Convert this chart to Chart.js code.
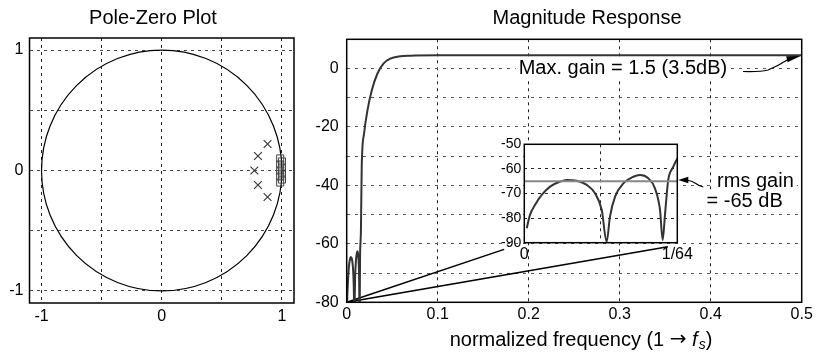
<!DOCTYPE html>
<html>
<head>
<meta charset="utf-8">
<script src="https://cdn.jsdelivr.net/npm/chart.js@4/dist/chart.umd.min.js"></script>
<style>
  html, body { margin: 0; padding: 0; background: #fff; }
  #wrap { position: relative; width: 819px; height: 352px; overflow: hidden; }
  canvas { position: absolute; }
  #pz { left: 0; top: 0; }
  #mag { left: 300px; top: 0; }
  #zoom { left: 470px; top: 130px; }
</style>
</head>
<body>
<div id="wrap">
  <canvas id="pz" width="310" height="352"></canvas>
  <canvas id="mag" width="519" height="352"></canvas>
  <canvas id="zoom" width="230" height="140"></canvas>
</div>
<script>
// pole-zero plot
const poles = [[0.88, 0.22], [0.80, 0.12], [0.77, 0], [0.80, -0.12], [0.88, -0.22]];
const zeros = [[0.985, 0.1], [1.0, 0.075], [0.985, 0.05], [1.0, 0.025], [0.985, 0],
               [1.0, -0.025], [0.985, -0.05], [1.0, -0.075], [0.985, -0.1]];
const unitRadius = 1;
const pzTicks = [-1, -0.5, 0, 0.5, 1];
const pzLabels = ['-1', '', '0', '', '1'];

// magnitude response (dB), stopband 0..1/64 then passband
const stopFreq = [0.00025, 0.00058, 0.00109, 0.00178, 0.00263, 0.00364, 0.00433, 0.00534, 0.00638,
                  0.00722, 0.00791, 0.00841, 0.00875, 0.00927, 0.01011, 0.01113, 0.01181, 0.01266,
                  0.01334, 0.01386, 0.01413, 0.01438, 0.01470, 0.01522, 0.015625];
const stopDb = [-84.1, -78.7, -74.7, -70.6, -67.2, -65.2, -64.5, -64.8, -66.5,
                -69.9, -76.7, -89.6, -79.4, -71.3, -65.9, -63.2, -62.5, -63.8,
                -67.9, -76.7, -88.9, -78.0, -64.5, -59.1, -55.7];
const passFreq = [0.0165, 0.0191, 0.0228, 0.0276, 0.0338, 0.0404, 0.0478, 0.0588, 0.07, 0.1, 0.5];
const passDb = [-33.6, -22.2, -14.3, -7.4, -1.7, 1.7, 3.4, 4.2, 4.4, 4.5, 4.5];
const rmsGain = -65;
const zoomEnds = [[0.173, -61.9], [0.353, -61.0]];

const freqTicks = [0, 0.1, 0.2, 0.3, 0.4, 0.5];
const freqLabels = ['0', '0.1', '0.2', '0.3', '0.4', '0.5'];
const dbTicks = [-80, -70, -60, -50, -40, -30, -20, -10, 0, 10];
const dbLabels = ['-80', '', '-60', '', '-40', '', '-20', '', '0', ''];
const insetFreqTicks = [0, 0.0078125, 0.015625];
const insetFreqLabels = ['0', '', '1/64'];
const insetDbTicks = [-90, -80, -70, -60, -50];
const insetDbLabels = ['-90', '-80', '-70', '-60', '-50'];

const fam = "'Liberation Sans', Arial, Helvetica, sans-serif";
Chart.defaults.font.family = fam;
Chart.defaults.color = '#000';

function setTicks(values) {
  return s => { s.ticks = values.map(v => ({ value: v })); };
}
function labelFrom(labels) {
  return (v, i) => labels[i];
}
function drawFrame(chart, w) {
  const a = chart.chartArea, ctx = chart.ctx;
  ctx.save();
  ctx.strokeStyle = '#000';
  ctx.lineWidth = w;
  ctx.strokeRect(a.left, a.top, a.right - a.left, a.bottom - a.top);
  ctx.restore();
}
function arrowHead(ctx, tx, ty, ang, len, hw) {
  const bx = tx - len * Math.cos(ang), by = ty - len * Math.sin(ang);
  ctx.beginPath();
  ctx.moveTo(tx, ty);
  ctx.lineTo(bx + hw * Math.sin(ang), by - hw * Math.cos(ang));
  ctx.lineTo(bx - hw * Math.sin(ang), by + hw * Math.cos(ang));
  ctx.closePath();
  ctx.fill();
}
function boxedText(ctx, txt, x, y) {
  const w = ctx.measureText(txt).width;
  ctx.fillStyle = '#fff';
  ctx.fillRect(x - 3, y - 11, w + 6, 22);
  ctx.fillStyle = '#000';
  ctx.fillText(txt, x, y);
}

// ---------- pole-zero ----------
const pzDecor = {
  id: 'pzDecor',
  beforeDatasetsDraw(chart) {
    const { ctx, scales: { x, y } } = chart;
    const cx = x.getPixelForValue(0), cy = y.getPixelForValue(0);
    ctx.save();
    ctx.strokeStyle = '#000';
    ctx.lineWidth = 1.2;
    ctx.beginPath();
    ctx.ellipse(cx, cy, x.getPixelForValue(unitRadius) - cx, cy - y.getPixelForValue(unitRadius), 0, 0, 2 * Math.PI);
    ctx.stroke();
    ctx.restore();
  },
  afterDatasetsDraw(chart) { drawFrame(chart, 1.5); },
  afterDraw(chart) {
    const ctx = chart.ctx;
    ctx.save();
    ctx.font = '20px ' + fam;
    ctx.fillStyle = '#000';
    ctx.textAlign = 'center';
    ctx.textBaseline = 'middle';
    ctx.fillText('Pole-Zero Plot', 153, 18);
    ctx.restore();
  }
};

new Chart(document.getElementById('pz'), {
  type: 'scatter',
  data: {
    datasets: [
      { data: poles.map(p => ({ x: p[0], y: p[1] })), pointStyle: 'crossRot', pointRadius: 5.5,
        borderColor: '#333', borderWidth: 1.1, backgroundColor: 'transparent' },
      { data: zeros.map(p => ({ x: p[0], y: p[1] })), pointStyle: 'rect', pointRadius: 5,
        borderColor: '#444', borderWidth: 1, backgroundColor: 'transparent' }
    ]
  },
  options: {
    responsive: false,
    animation: false,
    layout: { padding: { left: 0, right: 16, top: 38, bottom: 0 } },
    plugins: { legend: { display: false }, tooltip: { enabled: false } },
    scales: {
      x: {
        type: 'linear', min: -1.1, max: 1.1,
        afterBuildTicks: setTicks(pzTicks),
        afterFit: s => { s.height = 49; },
        ticks: { callback: labelFrom(pzLabels), padding: 4, font: { size: 16 }, maxRotation: 0, autoSkip: false },
        grid: { color: '#222', drawTicks: false },
        border: { display: false, dash: [3, 4] }
      },
      y: {
        type: 'linear', min: -1.1, max: 1.1,
        afterBuildTicks: setTicks(pzTicks),
        afterFit: s => { s.width = 29.5; },
        ticks: { callback: labelFrom(pzLabels), padding: 6, font: { size: 16 }, autoSkip: false },
        grid: { color: '#444', drawTicks: false },
        border: { display: false, dash: [3, 4] }
      }
    }
  },
  plugins: [pzDecor]
});

// ---------- magnitude response ----------
const response = stopFreq.map((f, i) => ({ x: f, y: stopDb[i] }))
  .concat(passFreq.map((f, i) => ({ x: f, y: passDb[i] })));

const magNotes = {
  id: 'magNotes',
  afterDatasetsDraw(chart) { drawFrame(chart, 1.5); },
  afterDraw(chart) {
    const { ctx, scales: { x, y } } = chart;
    ctx.save();
    ctx.fillStyle = '#000';
    ctx.textBaseline = 'middle';
    ctx.font = '20px ' + fam;
    ctx.textAlign = 'center';
    ctx.fillText('Magnitude Response', 287, 18);

    // axis title: normalized frequency (1 -> f_s), the arrow glyph from DejaVu (wider)
    ctx.textAlign = 'left';
    const parts = [
      ['normalized frequency (1 ', '20px ' + fam, 0],
      ['\u2192', '20px "DejaVu Sans"', 0],
      [' ', '20px ' + fam, 0],
      ['f', 'italic 20px ' + fam, 0],
      ['s', 'italic 14px ' + fam, 5],
      [')', '20px ' + fam, 0]
    ];
    let total = 0;
    parts.forEach(p => { ctx.font = p[1]; total += ctx.measureText(p[0]).width; });
    let cx = 281 - (total + 1) / 2;
    const ty = 340;
    parts.forEach(p => {
      ctx.font = p[1];
      ctx.fillText(p[0], cx, ty + p[2]);
      cx += ctx.measureText(p[0]).width + (p[0] === 'f' ? 1 : 0);
    });

    // notes
    ctx.font = '20px ' + fam;
    boxedText(ctx, 'Max. gain = 1.5 (3.5dB)', x.getPixelForValue(0.189), y.getPixelForValue(0));
    boxedText(ctx, 'rms gain', x.getPixelForValue(0.407), y.getPixelForValue(-38.8));
    boxedText(ctx, '= -65 dB', x.getPixelForValue(0.3955), y.getPixelForValue(-45.6));

    // arrows
    ctx.strokeStyle = '#000';
    ctx.fillStyle = '#000';
    ctx.lineWidth = 1.2;
    ctx.beginPath();
    ctx.moveTo(443, 71.5);
    ctx.quadraticCurveTo(460, 72, 468, 70);
    ctx.quadraticCurveTo(478, 66, 488, 59.5);
    ctx.stroke();
    arrowHead(ctx, 500.5, 56, Math.atan2(-3.5, 14.5), 14, 3);

    ctx.beginPath();
    ctx.moveTo(388, 180.5);
    ctx.bezierCurveTo(394, 180, 396, 186, 403.3, 187);
    ctx.stroke();
    arrowHead(ctx, 378.3, 180, Math.PI, 10, 3.3);
    ctx.restore();
  }
};

new Chart(document.getElementById('mag'), {
  type: 'scatter',
  data: {
    datasets: [
      { data: response, showLine: true, borderColor: '#333', borderWidth: 2, cubicInterpolationMode: 'monotone' },
      { data: [{ x: 0, y: -80 }, { x: zoomEnds[0][0], y: zoomEnds[0][1] }], showLine: true, borderColor: '#000', borderWidth: 1.5 },
      { data: [{ x: 0, y: -80 }, { x: zoomEnds[1][0], y: zoomEnds[1][1] }], showLine: true, borderColor: '#000', borderWidth: 1.5 }
    ]
  },
  options: {
    responsive: false,
    animation: false,
    elements: { point: { radius: 0 } },
    layout: { padding: { left: 0, right: 17.3, top: 39.3, bottom: 0 } },
    plugins: { legend: { display: false }, tooltip: { enabled: false } },
    scales: {
      x: {
        type: 'linear', min: 0, max: 0.5,
        afterBuildTicks: setTicks(freqTicks),
        afterFit: s => { s.height = 49.7; },
        ticks: { callback: labelFrom(freqLabels), padding: 3, font: { size: 16 }, maxRotation: 0, autoSkip: false },
        grid: { color: '#222', drawTicks: false },
        border: { display: false, dash: [3, 4] }
      },
      y: {
        type: 'linear', min: -80, max: 10,
        afterBuildTicks: setTicks(dbTicks),
        afterFit: s => { s.width = 46.7; },
        ticks: { callback: labelFrom(dbLabels), padding: 8, font: { size: 16 }, autoSkip: false },
        grid: { color: '#555', drawTicks: false },
        border: { display: false, dash: [3, 5] }
      }
    }
  },
  plugins: [magNotes]
});

// ---------- inset: stopband zoom ----------
const insetDecor = {
  id: 'insetDecor',
  beforeDraw(chart) {
    const a = chart.chartArea, ctx = chart.ctx;
    ctx.save();
    ctx.fillStyle = '#fff';
    ctx.fillRect(a.left, a.top, a.right - a.left, a.bottom - a.top);
    ctx.restore();
  },
  afterDatasetsDraw(chart) { drawFrame(chart, 1.5); }
};

new Chart(document.getElementById('zoom'), {
  type: 'scatter',
  data: {
    datasets: [
      { data: [{ x: insetFreqTicks[0], y: rmsGain }, { x: insetFreqTicks[2], y: rmsGain }], showLine: true,
        borderColor: '#888', borderWidth: 2 },
      { data: stopFreq.map((f, i) => ({ x: f, y: stopDb[i] })), showLine: true, borderColor: '#333',
        borderWidth: 2, cubicInterpolationMode: 'monotone' }
    ]
  },
  options: {
    responsive: false,
    animation: false,
    elements: { point: { radius: 0 } },
    layout: { padding: { left: 0, right: 22.7, top: 14.3, bottom: 0 } },
    plugins: { legend: { display: false }, tooltip: { enabled: false } },
    scales: {
      x: {
        type: 'linear', min: 0, max: 0.015625,
        afterBuildTicks: setTicks(insetFreqTicks),
        afterFit: s => { s.height = 27.3; },
        ticks: { callback: labelFrom(insetFreqLabels), padding: 2, font: { size: 16 }, maxRotation: 0, autoSkip: false },
        grid: { color: '#222', drawTicks: false },
        border: { display: false, dash: [3, 4] }
      },
      y: {
        type: 'linear', min: -90, max: -50,
        afterBuildTicks: setTicks(insetDbTicks),
        afterFit: s => { s.width = 54.3; },
        ticks: { callback: labelFrom(insetDbLabels), padding: 3, font: { size: 14 }, autoSkip: false },
        grid: { color: '#222', drawTicks: false },
        border: { display: false, dash: [3, 4] }
      }
    }
  },
  plugins: [insetDecor]
});
</script>
</body>
</html>
